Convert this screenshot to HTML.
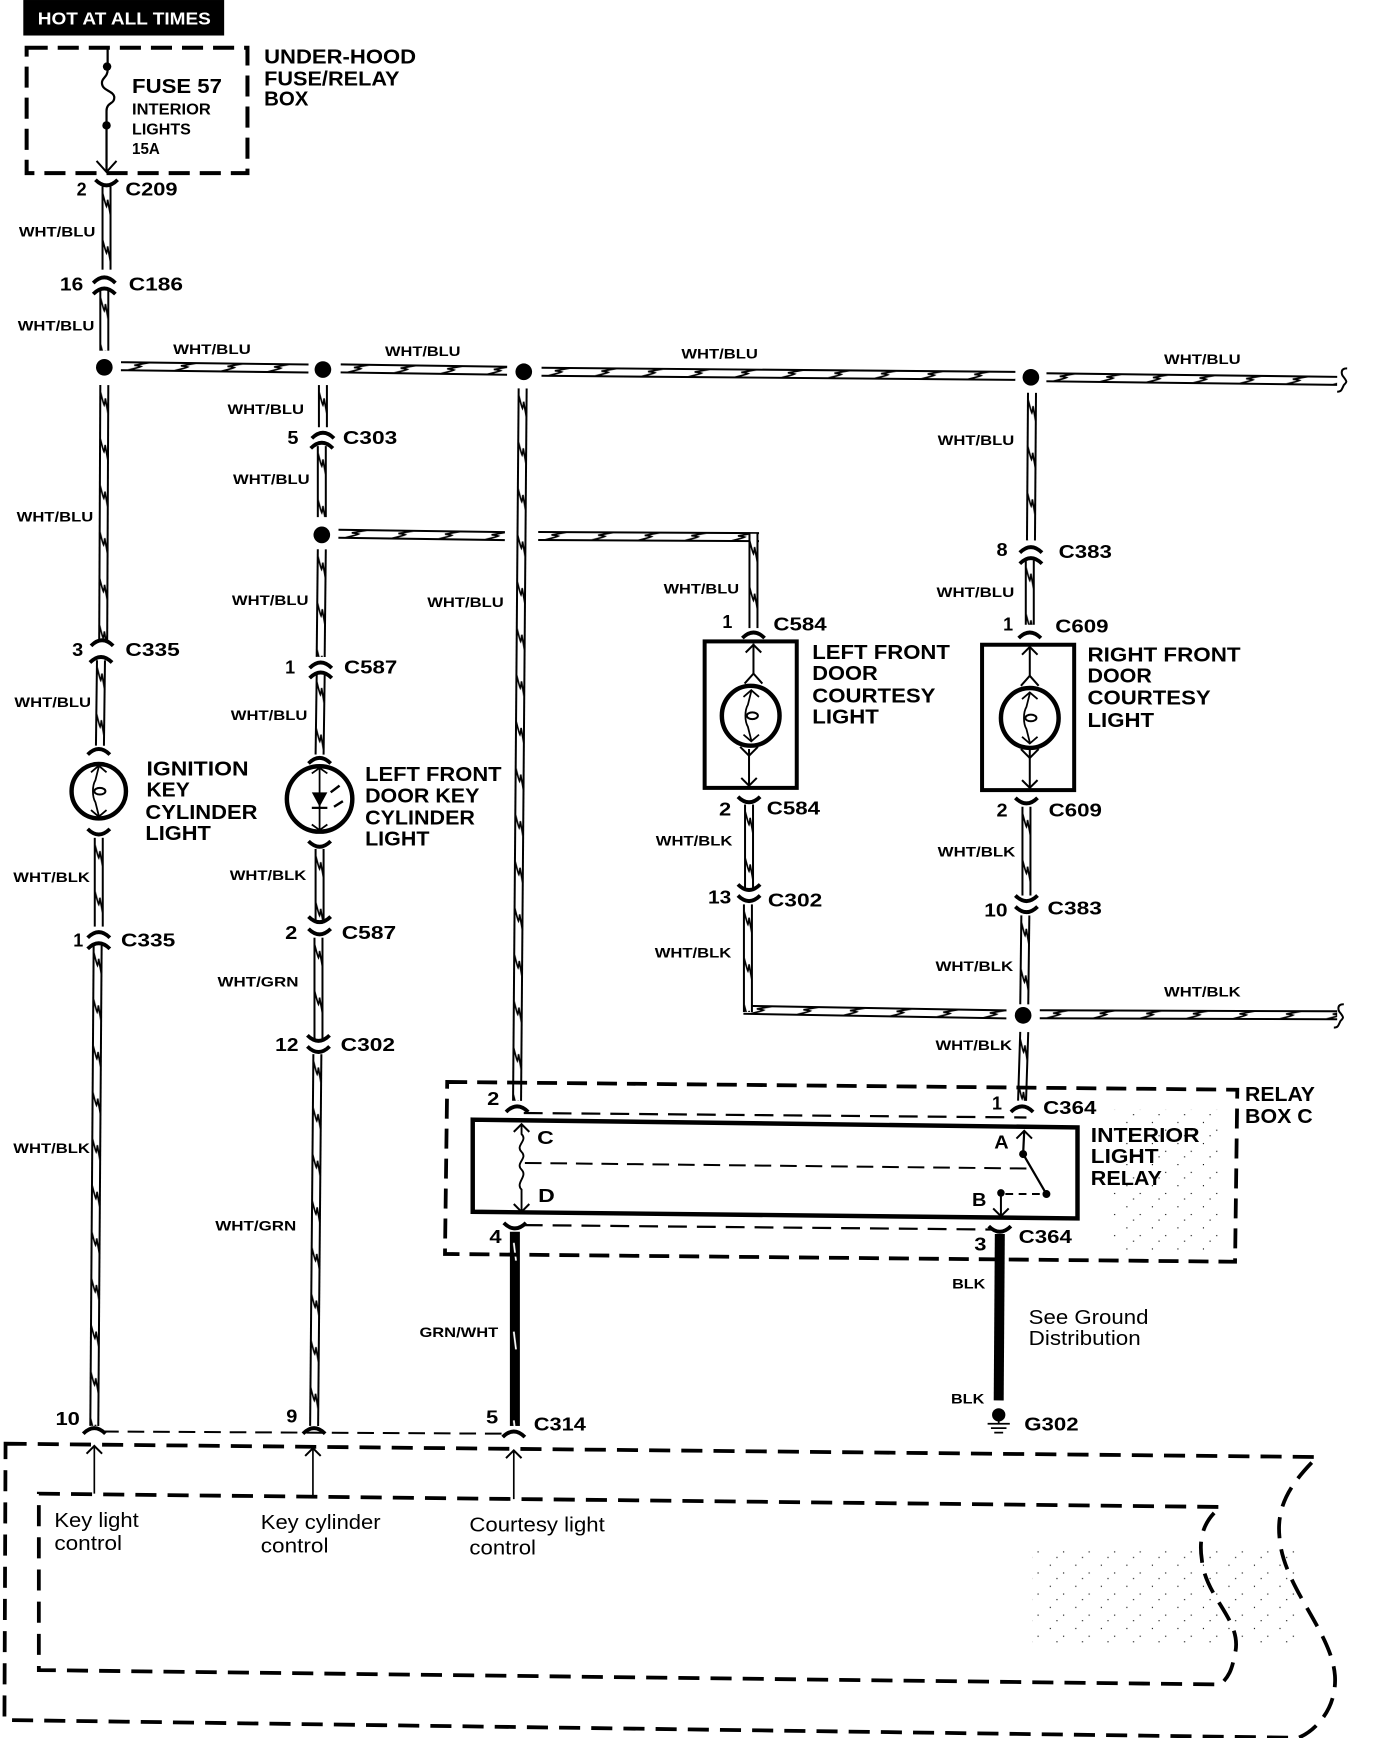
<!DOCTYPE html>
<html>
<head>
<meta charset="utf-8">
<style>
html,body{margin:0;padding:0;background:#fff}
svg{display:block}
text{font-family:"Liberation Sans",sans-serif;fill:#000}
.s{font-size:12.5px;font-weight:bold}
.m{font-size:17px;font-weight:bold}
.l{font-size:18px;font-weight:bold}
.f{font-size:14.5px;font-weight:bold}
.r{font-size:18.5px;font-weight:normal}
.k{fill:none;stroke:#000}
</style>
</head>
<body>
<svg xmlns="http://www.w3.org/2000/svg" width="1376" height="1738" viewBox="0 0 1240 1566.2">
<defs>
<pattern id="t" patternUnits="userSpaceOnUse" x="-4.5" y="0" width="9" height="42">
<rect x="0" y="0" width="9" height="42" fill="#fff"/>
<rect x="0" y="0" width="1.8" height="42" fill="#000"/>
<rect x="7.2" y="0" width="1.8" height="42" fill="#000"/>
<path d="M1,6 C2.5,12 3.5,16 4.5,18 C5.5,15 5.5,14 5.5,12 C6.5,18 7.5,22 8,26" fill="none" stroke="#000" stroke-width="1.5"/>
</pattern>
<pattern id="b" patternUnits="userSpaceOnUse" x="-4.5" y="0" width="9" height="80">
<rect x="0" y="0" width="9" height="80" fill="#000"/>
<path d="M3.5,10 L5.5,26" stroke="#fff" stroke-width="1.6"/>
</pattern>
<pattern id="sp" patternUnits="userSpaceOnUse" x="0" y="0" width="23" height="19">
<rect x="3" y="4" width="1" height="1" fill="#000"/>
<rect x="15" y="11" width="1" height="1" fill="#000"/>
<rect x="9" y="16" width="1" height="1" fill="#000"/>
</pattern>
<path id="n" d="M-10,5 Q0,-5 10,5" fill="none" stroke="#000" stroke-width="3.4"/>
<path id="u" d="M-10,-5 Q0,5 10,-5" fill="none" stroke="#000" stroke-width="3.4"/>
<path id="au" d="M-7,7 L0,0 L7,7" fill="none" stroke="#000" stroke-width="1.8"/>
<path id="ad" d="M-7,-7 L0,0 L7,-7" fill="none" stroke="#000" stroke-width="1.8"/>
<g id="fil">
<path d="M0,-22 L-3,-10 C-6,-5 -6,5 -3,10 L0,22" fill="none" stroke="#000" stroke-width="1.6"/>
<ellipse cx="1" cy="0" rx="5" ry="3" fill="none" stroke="#000" stroke-width="1.8"/>
<path d="M-7,-17 L0,-23 L7,-17 M-7,17 L0,23 L7,17" fill="none" stroke="#000" stroke-width="1.6"/>
</g>
<path id="brk" d="M0,-10 C-7,-10 -5,-4 -3,-2 C0,2 0,2 -3,5 C-5,9 -5,11 -9,11" fill="none" stroke="#000" stroke-width="1.8"/>
</defs>

<rect x="930" y="1395" width="240" height="90" fill="url(#sp)"/>
<rect x="1000" y="1000" width="100" height="130" fill="url(#sp)"/>

<rect x="21" y="0" width="181" height="32" fill="#000"/>
<text x="34" y="22" font-size="16" font-weight="bold" style="fill:#fff" textLength="156" lengthAdjust="spacingAndGlyphs">HOT AT ALL TIMES</text>

<!-- fuse box -->
<rect x="24" y="43" width="199" height="113" class="k" stroke-width="3.6" stroke-dasharray="19 9"/>
<path d="M97,43 L97,63 C97,70 91,70 92,76 C93,82 103,82 103,88 C103,94 96,92 96,100 L96,155" class="k" stroke-width="2"/>
<circle cx="96.5" cy="60" r="3.8"/><circle cx="96" cy="113" r="3.8"/>
<path d="M87,145 L96,155 L105,145" class="k" stroke-width="1.8"/>
<text class="l" x="119" y="84" textLength="81" lengthAdjust="spacingAndGlyphs">FUSE 57</text>
<text class="f" x="119" y="103" textLength="71" lengthAdjust="spacingAndGlyphs">INTERIOR</text>
<text class="f" x="119" y="121" textLength="53" lengthAdjust="spacingAndGlyphs">LIGHTS</text>
<text class="f" x="119" y="139" textLength="25" lengthAdjust="spacingAndGlyphs">15A</text>
<text class="l" x="238" y="57" textLength="137" lengthAdjust="spacingAndGlyphs">UNDER-HOOD</text>
<text class="l" x="238" y="77" textLength="122" lengthAdjust="spacingAndGlyphs">FUSE/RELAY</text>
<text class="l" x="238" y="95" textLength="40" lengthAdjust="spacingAndGlyphs">BOX</text>

<!-- wires -->
<g fill="url(#t)">
<rect x="-4.5" width="9" height="75" transform="translate(96,168)"/>
<rect x="-4.5" width="9" height="54" transform="translate(94,262)"/>
<rect x="-4.5" width="9" height="230" transform="translate(94,347) rotate(.25)"/>
<rect x="-4.5" width="9" height="77" transform="translate(91,595) rotate(.7)"/>
<rect x="-4.5" width="9" height="80" transform="translate(89,755)"/>
<rect x="-4.5" width="9" height="433" transform="translate(88,852) rotate(.4)"/>
<rect x="-4.5" width="9" height="38" transform="translate(291,347)"/>
<rect x="-4.5" width="9" height="64" transform="translate(290,402)"/>
<rect x="-4.5" width="9" height="97" transform="translate(290,495) rotate(.6)"/>
<rect x="-4.5" width="9" height="72" transform="translate(289,608) rotate(.8)"/>
<rect x="-4.5" width="9" height="67" transform="translate(288,765)"/>
<rect x="-4.5" width="9" height="93" transform="translate(287,845)"/>
<rect x="-4.5" width="9" height="335" transform="translate(286,950) rotate(.5)"/>
<rect x="-4.5" width="9" height="75" transform="translate(675,725)"/>
<rect x="-4.5" width="9" height="133" transform="translate(930,354) rotate(.4)"/>
<rect x="-4.5" width="9" height="58" transform="translate(928,505)"/>
<rect x="-4.5" width="9" height="80" transform="translate(925,727)"/>
<rect x="-4.5" width="9" height="80" transform="translate(924,825) rotate(.7)"/>
<rect x="-4.5" width="9" height="62" transform="translate(923,930) rotate(1.8)"/>
<rect x="-4.5" width="9" height="169" transform="translate(109,330) rotate(-89.3)"/>
<rect x="-4.5" width="9" height="150" transform="translate(307,332) rotate(-89.2)"/>
<rect x="-4.5" width="9" height="427" transform="translate(488,335) rotate(-89.5)"/>
<rect x="-4.5" width="9" height="262" transform="translate(943,340) rotate(-89.3)"/>
<rect x="-4.5" width="9" height="150" transform="translate(305,481) rotate(-89.2)"/>
<rect x="-4.5" width="9" height="199" transform="translate(485,483) rotate(-89.7)"/>
<rect x="-4.5" width="9" height="237" transform="translate(670,910) rotate(-89)"/>
<rect x="-4.5" width="9" height="268" transform="translate(937,914) rotate(-89.8)"/>
<rect x="-4.5" width="9" height="85" transform="translate(679,481)"/>
<rect x="-4.5" width="9" height="97" transform="translate(674,815)"/>
<rect x="-4.5" width="9" height="642" transform="translate(471,350) rotate(.45)"/>
</g>
<rect x="-4.5" width="9" height="175" fill="url(#b)" transform="translate(464,1110)"/>
<path d="M901,1112 L900,1262" class="k" stroke-width="9"/>
<use href="#brk" x="1214" y="342"/>
<use href="#brk" x="1211" y="915"/>

<!-- junctions -->
<circle cx="94" cy="331" r="7.5"/><circle cx="291" cy="333" r="7.5"/><circle cx="472" cy="335" r="7.5"/><circle cx="929" cy="340" r="7.5"/>
<circle cx="290" cy="482" r="7.5"/><circle cx="922" cy="915" r="7.5"/>

<!-- connector arcs -->
<use href="#u" x="96" y="167"/>
<use href="#n" x="94" y="250"/><use href="#n" x="94" y="260"/>
<use href="#n" x="92" y="577"/><use href="#n" x="91" y="592"/>
<use href="#n" x="89" y="675"/><use href="#u" x="89" y="752"/>
<use href="#n" x="89" y="840"/><use href="#n" x="89" y="850"/>
<use href="#n" x="85" y="1287"/>
<use href="#n" x="291" y="390"/><use href="#n" x="290" y="399"/>
<use href="#n" x="289" y="597"/><use href="#n" x="289" y="606"/>
<use href="#n" x="288" y="683"/><use href="#u" x="288" y="763"/>
<use href="#u" x="288" y="831"/><use href="#u" x="288" y="842"/>
<use href="#u" x="287" y="938"/><use href="#u" x="287" y="948"/>
<use href="#n" x="283" y="1287"/>
<use href="#n" x="466" y="997"/>
<use href="#n" x="679" y="570"/>
<use href="#u" x="675" y="723"/>
<use href="#u" x="675" y="802"/><use href="#u" x="675" y="812"/>
<use href="#n" x="929" y="493"/><use href="#n" x="929" y="503"/>
<use href="#n" x="928" y="570"/>
<use href="#u" x="925" y="724"/>
<use href="#u" x="925" y="812"/><use href="#u" x="925" y="822"/>
<use href="#n" x="921" y="997"/>
<use href="#u" x="464" y="1107"/>
<use href="#u" x="901" y="1110"/>
<use href="#n" x="463" y="1290"/>

<!-- ignition bulb -->
<circle cx="89" cy="713" r="24.5" class="k" stroke-width="4"/>
<use href="#fil" x="89" y="713"/>
<!-- LED bulb -->
<circle cx="288" cy="720" r="29.5" class="k" stroke-width="4"/>
<path d="M288,692 L288,748" class="k" stroke-width="1.6"/>
<path d="M281,714 L295,714 L288,727 Z"/>
<path d="M281,728 L295,728" class="k" stroke-width="2"/>
<path d="M298,714 L306,708 M301,727 L309,722" class="k" stroke-width="2.2"/>
<path d="M281,697 L288,692 L295,697 M281,743 L288,748 L295,743" class="k" stroke-width="1.6"/>

<!-- courtesy boxes -->
<rect x="635" y="578" width="83" height="132" class="k" stroke-width="3.6"/>
<path d="M679,580 L679,608 M675,675 L675,707" class="k" stroke-width="1.8"/>
<use href="#au" x="679" y="581"/><path d="M671,616 L679,607 L687,616" class="k" stroke-width="1.8"/>
<path d="M667,673 L675,681 L683,673" class="k" stroke-width="1.8"/><use href="#ad" x="675" y="708"/>
<ellipse cx="676.5" cy="645" rx="26" ry="27" class="k" stroke-width="4"/>
<use href="#fil" x="677" y="645"/>

<rect x="885" y="581" width="83" height="131" class="k" stroke-width="3.6"/>
<path d="M928,583 L928,610 M928,675 L928,709" class="k" stroke-width="1.8"/>
<use href="#au" x="928" y="583"/><path d="M920,618 L928,609 L936,618" class="k" stroke-width="1.8"/>
<path d="M920,675 L928,683 L936,675" class="k" stroke-width="1.8"/><use href="#ad" x="928" y="710"/>
<ellipse cx="928" cy="647" rx="26" ry="27" class="k" stroke-width="4"/>
<use href="#fil" x="928" y="647"/>

<!-- relay box -->
<path d="M403,975 L1115,982 L1113,1137 L401,1130 Z" class="k" stroke-width="3.4" stroke-dasharray="18 9"/>
<path d="M472,1003 L925,1007" class="k" stroke-width="2" stroke-dasharray="17 9"/>
<path d="M472,1104 L895,1108" class="k" stroke-width="2" stroke-dasharray="17 9"/>
<path d="M426,1009 L971,1016 L971,1098 L426,1092 Z" class="k" stroke-width="4"/>
<use href="#au" x="470" y="1013"/>
<path d="M470,1013 L470,1022 C476,1028 464,1032 470,1038 C476,1044 464,1048 470,1054 C476,1060 464,1066 470,1072 L470,1092" class="k" stroke-width="1.7"/>
<use href="#ad" x="470" y="1092"/>
<path d="M473,1048 L925,1053" class="k" stroke-width="1.8" stroke-dasharray="15 8"/>
<use href="#au" x="923" y="1019"/>
<path d="M923,1019 L922,1040 L943,1076" class="k" stroke-width="2"/>
<circle cx="922" cy="1040" r="3.6"/><circle cx="943" cy="1076" r="3.6"/><circle cx="902" cy="1075" r="3.4"/>
<path d="M906,1076 L940,1076" class="k" stroke-width="1.8" stroke-dasharray="7 5"/>
<path d="M902,1075 L902,1096" class="k" stroke-width="1.8"/>
<use href="#ad" x="902" y="1096"/>

<!-- ground -->
<circle cx="900" cy="1275" r="6"/>
<path d="M900,1275 L900,1283 M890,1283 L910,1283 M893,1287 L907,1287 M896,1291 L904,1291" class="k" stroke-width="1.6"/>

<!-- bottom -->
<path d="M92,1290 L458,1292" class="k" stroke-width="1.8" stroke-dasharray="15 8"/>
<path d="M5,1301 L1187,1313 C1165,1335 1150,1355 1153,1385 C1156,1430 1200,1470 1203,1510 C1205,1540 1185,1560 1170,1566 L4,1550 Z" class="k" stroke-width="3.4" stroke-dasharray="19 10"/>
<path d="M35,1346 L1100,1358 C1085,1370 1080,1385 1083,1405 C1086,1440 1120,1460 1113,1490 C1110,1505 1108,1510 1100,1518 L35,1505 Z" class="k" stroke-width="3.4" stroke-dasharray="19 10"/>
<path d="M85,1303 L85,1346 M282,1305 L282,1349 M463,1307 L463,1351" class="k" stroke-width="1.5"/>
<use href="#au" x="85" y="1303"/><use href="#au" x="282" y="1305"/><use href="#au" x="463" y="1307"/>

<!-- labels small -->
<g class="s">
<text class="s" x="17" y="213" textLength="69" lengthAdjust="spacingAndGlyphs">WHT/BLU</text>
<text class="s" x="16" y="298" textLength="69" lengthAdjust="spacingAndGlyphs">WHT/BLU</text>
<text class="s" x="156" y="319" textLength="70" lengthAdjust="spacingAndGlyphs">WHT/BLU</text>
<text class="s" x="347" y="321" textLength="68" lengthAdjust="spacingAndGlyphs">WHT/BLU</text>
<text class="s" x="614" y="323" textLength="69" lengthAdjust="spacingAndGlyphs">WHT/BLU</text>
<text class="s" x="1049" y="328" textLength="69" lengthAdjust="spacingAndGlyphs">WHT/BLU</text>
<text class="s" x="15" y="470" textLength="69" lengthAdjust="spacingAndGlyphs">WHT/BLU</text>
<text class="s" x="13" y="637" textLength="69" lengthAdjust="spacingAndGlyphs">WHT/BLU</text>
<text class="s" x="12" y="795" textLength="69" lengthAdjust="spacingAndGlyphs">WHT/BLK</text>
<text class="s" x="12" y="1039" textLength="69" lengthAdjust="spacingAndGlyphs">WHT/BLK</text>
<text class="s" x="205" y="373" textLength="69" lengthAdjust="spacingAndGlyphs">WHT/BLU</text>
<text class="s" x="210" y="436" textLength="69" lengthAdjust="spacingAndGlyphs">WHT/BLU</text>
<text class="s" x="209" y="545" textLength="69" lengthAdjust="spacingAndGlyphs">WHT/BLU</text>
<text class="s" x="208" y="649" textLength="69" lengthAdjust="spacingAndGlyphs">WHT/BLU</text>
<text class="s" x="207" y="793" textLength="69" lengthAdjust="spacingAndGlyphs">WHT/BLK</text>
<text class="s" x="196" y="889" textLength="73" lengthAdjust="spacingAndGlyphs">WHT/GRN</text>
<text class="s" x="194" y="1109" textLength="73" lengthAdjust="spacingAndGlyphs">WHT/GRN</text>
<text class="s" x="385" y="547" textLength="69" lengthAdjust="spacingAndGlyphs">WHT/BLU</text>
<text class="s" x="598" y="535" textLength="68" lengthAdjust="spacingAndGlyphs">WHT/BLU</text>
<text class="s" x="591" y="762" textLength="69" lengthAdjust="spacingAndGlyphs">WHT/BLK</text>
<text class="s" x="590" y="863" textLength="69" lengthAdjust="spacingAndGlyphs">WHT/BLK</text>
<text class="s" x="845" y="401" textLength="69" lengthAdjust="spacingAndGlyphs">WHT/BLU</text>
<text class="s" x="844" y="538" textLength="70" lengthAdjust="spacingAndGlyphs">WHT/BLU</text>
<text class="s" x="845" y="772" textLength="70" lengthAdjust="spacingAndGlyphs">WHT/BLK</text>
<text class="s" x="843" y="875" textLength="70" lengthAdjust="spacingAndGlyphs">WHT/BLK</text>
<text class="s" x="1049" y="898" textLength="69" lengthAdjust="spacingAndGlyphs">WHT/BLK</text>
<text class="s" x="843" y="946" textLength="69" lengthAdjust="spacingAndGlyphs">WHT/BLK</text>
<text class="s" x="378" y="1205" textLength="71" lengthAdjust="spacingAndGlyphs">GRN/WHT</text>
<text class="s" x="858" y="1161" textLength="30" lengthAdjust="spacingAndGlyphs">BLK</text>
<text class="s" x="857" y="1265" textLength="30" lengthAdjust="spacingAndGlyphs">BLK</text>
</g>

<!-- connector ids -->
<text class="m" x="69" y="176" textLength="9" lengthAdjust="spacingAndGlyphs">2</text>
<text class="m" x="113" y="176" textLength="47" lengthAdjust="spacingAndGlyphs">C209</text>
<text class="m" x="54" y="262" textLength="21" lengthAdjust="spacingAndGlyphs">16</text>
<text class="m" x="116" y="262" textLength="49" lengthAdjust="spacingAndGlyphs">C186</text>
<text class="m" x="65" y="591" textLength="10" lengthAdjust="spacingAndGlyphs">3</text>
<text class="m" x="113" y="591" textLength="49" lengthAdjust="spacingAndGlyphs">C335</text>
<text class="m" x="66" y="853" textLength="9" lengthAdjust="spacingAndGlyphs">1</text>
<text class="m" x="109" y="853" textLength="49" lengthAdjust="spacingAndGlyphs">C335</text>
<text class="m" x="50" y="1284" textLength="22" lengthAdjust="spacingAndGlyphs">10</text>
<text class="m" x="259" y="400" textLength="10" lengthAdjust="spacingAndGlyphs">5</text>
<text class="m" x="309" y="400" textLength="49" lengthAdjust="spacingAndGlyphs">C303</text>
<text class="m" x="257" y="607" textLength="9" lengthAdjust="spacingAndGlyphs">1</text>
<text class="m" x="310" y="607" textLength="48" lengthAdjust="spacingAndGlyphs">C587</text>
<text class="m" x="257" y="846" textLength="11" lengthAdjust="spacingAndGlyphs">2</text>
<text class="m" x="308" y="846" textLength="49" lengthAdjust="spacingAndGlyphs">C587</text>
<text class="m" x="248" y="947" textLength="21" lengthAdjust="spacingAndGlyphs">12</text>
<text class="m" x="307" y="947" textLength="49" lengthAdjust="spacingAndGlyphs">C302</text>
<text class="m" x="258" y="1282" textLength="10" lengthAdjust="spacingAndGlyphs">9</text>
<text class="m" x="439" y="996" textLength="11" lengthAdjust="spacingAndGlyphs">2</text>
<text class="m" x="651" y="566" textLength="9" lengthAdjust="spacingAndGlyphs">1</text>
<text class="m" x="697" y="568" textLength="48" lengthAdjust="spacingAndGlyphs">C584</text>
<text class="m" x="648" y="735" textLength="11" lengthAdjust="spacingAndGlyphs">2</text>
<text class="m" x="691" y="734" textLength="48" lengthAdjust="spacingAndGlyphs">C584</text>
<text class="m" x="638" y="814" textLength="21" lengthAdjust="spacingAndGlyphs">13</text>
<text class="m" x="692" y="817" textLength="49" lengthAdjust="spacingAndGlyphs">C302</text>
<text class="m" x="898" y="501" textLength="10" lengthAdjust="spacingAndGlyphs">8</text>
<text class="m" x="954" y="503" textLength="48" lengthAdjust="spacingAndGlyphs">C383</text>
<text class="m" x="904" y="568" textLength="9" lengthAdjust="spacingAndGlyphs">1</text>
<text class="m" x="951" y="570" textLength="48" lengthAdjust="spacingAndGlyphs">C609</text>
<text class="m" x="898" y="736" textLength="10" lengthAdjust="spacingAndGlyphs">2</text>
<text class="m" x="945" y="736" textLength="48" lengthAdjust="spacingAndGlyphs">C609</text>
<text class="m" x="887" y="826" textLength="21" lengthAdjust="spacingAndGlyphs">10</text>
<text class="m" x="944" y="824" textLength="49" lengthAdjust="spacingAndGlyphs">C383</text>
<text class="m" x="894" y="1000" textLength="9" lengthAdjust="spacingAndGlyphs">1</text>
<text class="m" x="940" y="1004" textLength="48" lengthAdjust="spacingAndGlyphs">C364</text>
<text class="m" x="441" y="1120" textLength="11" lengthAdjust="spacingAndGlyphs">4</text>
<text class="m" x="878" y="1127" textLength="11" lengthAdjust="spacingAndGlyphs">3</text>
<text class="m" x="918" y="1120" textLength="48" lengthAdjust="spacingAndGlyphs">C364</text>
<text class="m" x="438" y="1283" textLength="11" lengthAdjust="spacingAndGlyphs">5</text>
<text class="m" x="481" y="1289" textLength="47" lengthAdjust="spacingAndGlyphs">C314</text>
<text class="m" x="923" y="1289" textLength="49" lengthAdjust="spacingAndGlyphs">G302</text>
<text class="m" x="484" y="1031" textLength="15" lengthAdjust="spacingAndGlyphs">C</text>
<text class="m" x="485" y="1083" textLength="15" lengthAdjust="spacingAndGlyphs">D</text>
<text class="m" x="896" y="1035" textLength="13" lengthAdjust="spacingAndGlyphs">A</text>
<text class="m" x="876" y="1087" textLength="13" lengthAdjust="spacingAndGlyphs">B</text>

<!-- component names -->
<text class="l" x="132" y="699" textLength="92" lengthAdjust="spacingAndGlyphs">IGNITION</text>
<text class="l" x="132" y="718" textLength="39" lengthAdjust="spacingAndGlyphs">KEY</text>
<text class="l" x="131" y="738" textLength="101" lengthAdjust="spacingAndGlyphs">CYLINDER</text>
<text class="l" x="131" y="757" textLength="59" lengthAdjust="spacingAndGlyphs">LIGHT</text>
<text class="l" x="329" y="704" textLength="123" lengthAdjust="spacingAndGlyphs">LEFT FRONT</text>
<text class="l" x="329" y="723" textLength="103" lengthAdjust="spacingAndGlyphs">DOOR KEY</text>
<text class="l" x="329" y="743" textLength="99" lengthAdjust="spacingAndGlyphs">CYLINDER</text>
<text class="l" x="329" y="762" textLength="58" lengthAdjust="spacingAndGlyphs">LIGHT</text>
<text class="l" x="732" y="594" textLength="124" lengthAdjust="spacingAndGlyphs">LEFT FRONT</text>
<text class="l" x="732" y="613" textLength="59" lengthAdjust="spacingAndGlyphs">DOOR</text>
<text class="l" x="732" y="633" textLength="111" lengthAdjust="spacingAndGlyphs">COURTESY</text>
<text class="l" x="732" y="652" textLength="60" lengthAdjust="spacingAndGlyphs">LIGHT</text>
<text class="l" x="980" y="596" textLength="138" lengthAdjust="spacingAndGlyphs">RIGHT FRONT</text>
<text class="l" x="980" y="615" textLength="58" lengthAdjust="spacingAndGlyphs">DOOR</text>
<text class="l" x="980" y="635" textLength="111" lengthAdjust="spacingAndGlyphs">COURTESY</text>
<text class="l" x="980" y="655" textLength="60" lengthAdjust="spacingAndGlyphs">LIGHT</text>
<text class="l" x="1122" y="992" textLength="63" lengthAdjust="spacingAndGlyphs">RELAY</text>
<text class="l" x="1122" y="1012" textLength="61" lengthAdjust="spacingAndGlyphs">BOX C</text>
<text class="l" x="983" y="1029" textLength="98" lengthAdjust="spacingAndGlyphs">INTERIOR</text>
<text class="l" x="983" y="1048" textLength="61" lengthAdjust="spacingAndGlyphs">LIGHT</text>
<text class="l" x="983" y="1068" textLength="64" lengthAdjust="spacingAndGlyphs">RELAY</text>

<!-- regular text -->
<text class="r" x="927" y="1193" textLength="108" lengthAdjust="spacingAndGlyphs">See Ground</text>
<text class="r" x="927" y="1212" textLength="101" lengthAdjust="spacingAndGlyphs">Distribution</text>
<text class="r" x="49" y="1376" textLength="76" lengthAdjust="spacingAndGlyphs">Key light</text>
<text class="r" x="49" y="1397" textLength="61" lengthAdjust="spacingAndGlyphs">control</text>
<text class="r" x="235" y="1378" textLength="108" lengthAdjust="spacingAndGlyphs">Key cylinder</text>
<text class="r" x="235" y="1399" textLength="61" lengthAdjust="spacingAndGlyphs">control</text>
<text class="r" x="423" y="1380" textLength="122" lengthAdjust="spacingAndGlyphs">Courtesy light</text>
<text class="r" x="423" y="1401" textLength="60" lengthAdjust="spacingAndGlyphs">control</text>
</svg>
</body>
</html>
